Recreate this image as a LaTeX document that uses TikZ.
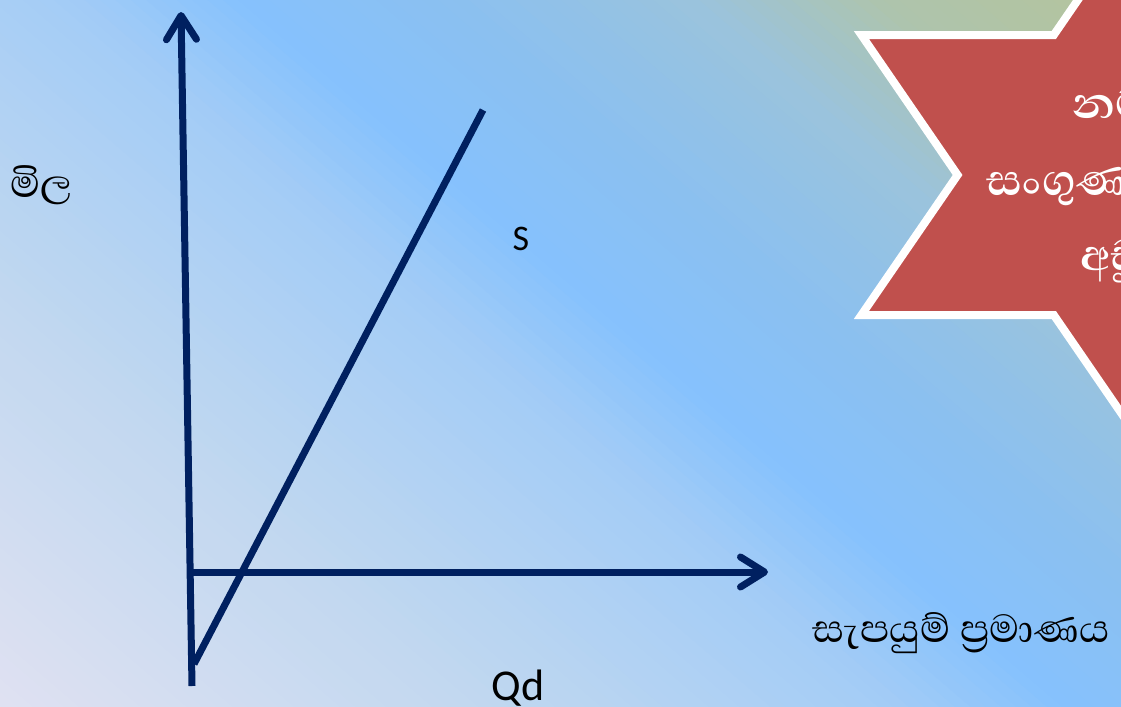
\documentclass[tikz,border=0pt]{standalone}
\usepackage{fontspec}
\setmainfont{Carlito}
\newfontfamily\sinhfont[Script=Sinhala]{Abhaya Libre}
\usetikzlibrary{arrows.meta}
\definecolor{navy}{HTML}{002060}
\definecolor{starred}{HTML}{C0504D}
\definecolor{bgA}{HTML}{E2E2F2}
\definecolor{bgB}{HTML}{BFD7F0}
\definecolor{bgC}{HTML}{A3CCF6}
\definecolor{bgD}{HTML}{86C1FD}
\definecolor{bgE}{HTML}{8BC0F0}
\definecolor{bgF}{HTML}{9BC3DC}
\definecolor{bgG}{HTML}{AEC4AC}
\definecolor{bgH}{HTML}{B8C594}
\begin{document}
\begin{tikzpicture}[x=0.5pt,y=-0.5pt,
  axisline/.style={line width=3.5pt, draw=navy, -{Straight Barb[length=12pt,width=15pt,round]}},
  curve/.style={line width=3.5pt, draw=navy},
  sinlbl/.style={inner sep=0pt, font=\sinhfont\fontsize{25pt}{29pt}\selectfont, text=black},
  startxt/.style={inner sep=0pt, font=\sinhfont\bfseries\fontsize{28pt}{32pt}\selectfont, text=white},
  starshape/.style={fill=starred, draw=white, line width=4pt, line join=miter}]
\useasboundingbox (0,0) rectangle (1121,707);
\begin{scope}
\clip (0,0) rectangle (1121,707);
% background gradient as thin strips
\foreach \ta/\tb/\ca/\cb in {-760/-400/bgA/bgB, -400/-150/bgB/bgC, -150/-40/bgC/bgD, -40/100/bgD/bgE, 100/260/bgE/bgF, 260/380/bgF/bgG, 380/620/bgG/bgH}{
  \pgfmathtruncatemacro{\N}{(\tb-\ta)/10}
  \foreach \k in {1,...,\N}{
    \pgfmathsetmacro{\u}{\ta+(\k-1)*10}
    \pgfmathsetmacro{\v}{\u+11}
    \pgfmathtruncatemacro{\p}{100*(\k-0.5)/\N}
    \fill[\cb!\p!\ca] ({300+0.651*\u-1138.5},{-0.759*\u-976.5}) -- ({300+0.651*\u+1138.5},{-0.759*\u+976.5}) -- ({300+0.651*\v+1138.5},{-0.759*\v+976.5}) -- ({300+0.651*\v-1138.5},{-0.759*\v-976.5}) -- cycle;
  }
}
% star
\path[starshape] (1150,-105) -- (1053.8,35) -- (861.4,35) -- (957.6,175) -- (861.4,315) -- (1053.8,315) -- (1150,455) -- (1246.2,315) -- (1438.6,315) -- (1342.4,175) -- (1438.6,35) -- (1246.2,35) -- cycle;
\node[startxt, anchor=base west] (st1) at (1072,118) {නම්‍යතා};
\node[startxt, anchor=base west] (st2) at (986,195) {සංගුණකය 1ට};
\node[startxt, anchor=base west] (st3) at (1080,270) {අඩුයි};
\end{scope}
% axes
\coordinate (vb) at (192,686);
\coordinate (vt) at (181,12);
\coordinate (ho) at (189,572);
\coordinate (he) at (768,572);
\coordinate (sb) at (194,664);
\coordinate (stp) at (483,110);
\draw[axisline] (vb) -- (vt);
\draw[axisline] (ho) -- (he);
\draw[curve] (sb) -- (stp);
% labels
\node[sinlbl, anchor=base west] (price) at (10,197) {මිල};
\node[sinlbl, anchor=base west] (qty) at (812,642) {සැපයුම් ප්‍රමාණය};
\node[inner sep=0pt, font=\fontsize{18pt}{22pt}\selectfont, anchor=base] (slab) at (521,250) {S};
\node[inner sep=0pt, font=\fontsize{22pt}{26pt}\selectfont, anchor=base] (qd) at (518,700) {Qd};
\end{tikzpicture}
\end{document}
